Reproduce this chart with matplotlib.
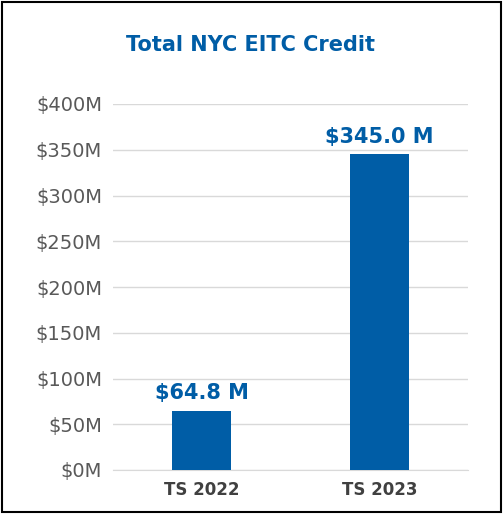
import matplotlib
matplotlib.use("Agg")
import matplotlib.pyplot as plt
from matplotlib.patches import Rectangle

categories = ["TS 2022", "TS 2023"]
values = [64.8, 345.0]
labels = ["$64.8 M", "$345.0 M"]
yticks = [0, 50, 100, 150, 200, 250, 300, 350, 400]

blue = "#005DA6"
fig = plt.figure(figsize=(5.03, 5.14), dpi=100)
ax = fig.add_axes([113/503, 1-470/514, 355/503, 366/514])
x = range(len(categories))
ax.bar(x, values, width=0.33, color=blue, zorder=3)
for xi, v, l in zip(x, values, labels):
    ax.text(xi, v + 8, l, ha="center", va="bottom", color=blue, fontsize=15, fontweight="bold")
ax.set_xlim(-0.5, 1.5)
ax.set_ylim(0, 400)
ax.set_yticks(yticks)
ax.set_yticklabels([f"${t}M" for t in yticks], color="#595959", fontsize=14)
ax.set_xticks(list(x))
ax.set_xticklabels(categories, fontsize=12, fontweight="bold", color="#404040")
ax.grid(axis="y", color="#D9D9D9", lw=1, zorder=0)
for s in ax.spines.values():
    s.set_visible(False)
ax.spines["bottom"].set_visible(True)
ax.spines["bottom"].set_color("#D9D9D9")
ax.tick_params(length=0, pad=8)
fig.text(250/503, 1-45/514, "Total NYC EITC Credit", ha="center", va="center",
         color=blue, fontsize=15, fontweight="bold")
fig.patches.append(Rectangle((0.004, 0.004), 0.992, 0.992, transform=fig.transFigure,
                             fill=False, edgecolor="black", lw=1.5))
fig.savefig("out.png", dpi=100)
